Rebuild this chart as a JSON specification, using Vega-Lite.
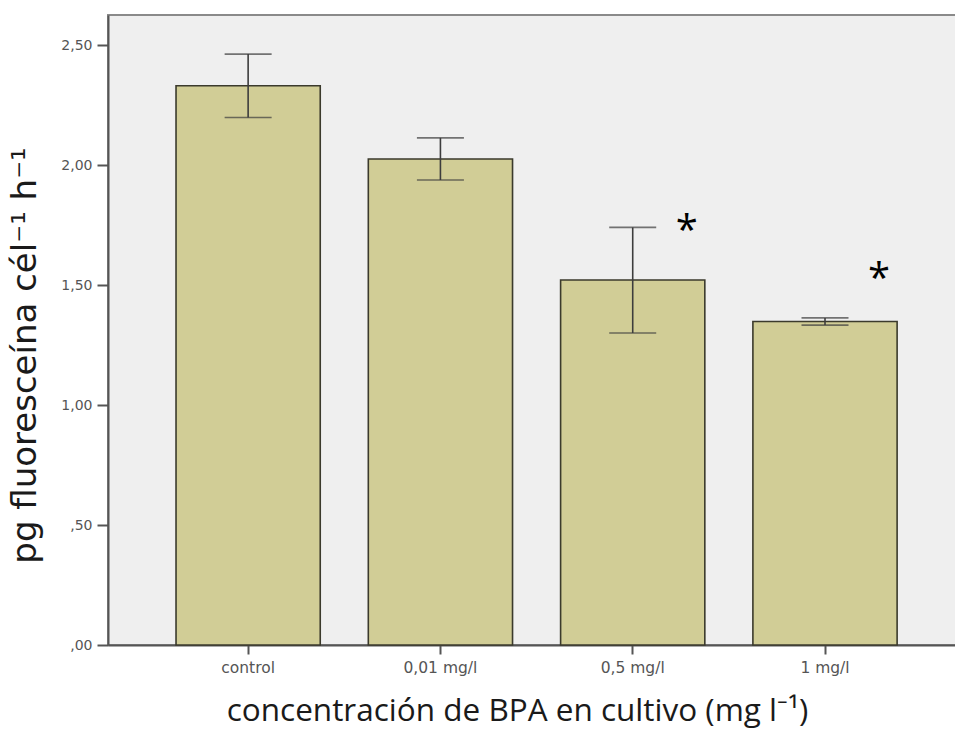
{
  "$schema": "https://vega.github.io/schema/vega-lite/v6.json",
  "autosize": "none",
  "padding": {"left": 108, "top": 15, "right": 0, "bottom": 84},
  "width": 848,
  "height": 630,
  "background": "white",
  "config": {
    "view": {"fill": "#efefef", "stroke": "#8a8a8a", "strokeWidth": 2},
    "axis": {"labelFont": "DejaVu Sans", "titleFont": "Open Sans", "labelColor": "#555555", "tickColor": "#555555", "domainColor": "#555555", "domainWidth": 2, "tickWidth": 2, "grid": false}
  },
  "data": {
    "values": [
      {"grupo": "control", "media": 2.33, "inf": 2.198, "sup": 2.462, "sig": null},
      {"grupo": "0,01 mg/l", "media": 2.025, "inf": 1.9375, "sup": 2.113, "sig": null},
      {"grupo": "0,5 mg/l", "media": 1.521, "inf": 1.30, "sup": 1.74, "sig": 1.75},
      {"grupo": "1 mg/l", "media": 1.348, "inf": 1.333, "sup": 1.363, "sig": 1.55}
    ]
  },
  "encoding": {
    "x": {
      "field": "grupo",
      "type": "nominal",
      "sort": null,
      "scale": {"paddingInner": 0.25, "paddingOuter": 0.33, "align": 0.536},
      "axis": {
        "title": "concentración de BPA en cultivo (mg l⁻¹)",
        "titleFontSize": 31.5,
        "titleFontWeight": "normal",
        "titleColor": "#1a1a1a",
        "titleX": 409,
        "titlePadding": 20,
        "labelAngle": 0,
        "labelFontSize": 15.5,
        "labelPadding": 6,
        "tickSize": 9
      }
    }
  },
  "layer": [
    {
      "mark": {"type": "bar", "fill": "#d1cd96", "stroke": "#3b3a2c", "strokeWidth": 1.6},
      "encoding": {
        "y": {
          "field": "media",
          "type": "quantitative",
          "scale": {"domain": [0, 2.625], "nice": false},
          "axis": {
            "title": "pg fluoresceína cél⁻¹ h⁻¹",
            "titleFont": "DejaVu Sans",
            "titleFontSize": 34,
            "titleFontWeight": "normal",
            "titleColor": "#1a1a1a",
            "titlePadding": 18,
            "titleY": 340,
            "values": [0, 0.5, 1, 1.5, 2, 2.5],
            "labelExpr": "datum.value < 1 ? replace(format(datum.value, '.2f'), '0.', ',') : replace(format(datum.value, '.2f'), '.', ',')",
            "labelFontSize": 14,
            "labelPadding": 5,
            "tickSize": 11
          }
        }
      }
    },
    {
      "mark": {"type": "rule", "color": "#3d3d3d", "strokeWidth": 1.6},
      "encoding": {
        "y": {"field": "inf", "type": "quantitative"},
        "y2": {"field": "sup"}
      }
    },
    {
      "mark": {"type": "tick", "color": "#3d3d3d", "thickness": 1.6, "size": 47},
      "encoding": {"y": {"field": "inf", "type": "quantitative"}}
    },
    {
      "mark": {"type": "tick", "color": "#3d3d3d", "thickness": 1.6, "size": 47},
      "encoding": {"y": {"field": "sup", "type": "quantitative"}}
    },
    {
      "transform": [{"filter": "datum.sig != null"}],
      "mark": {"type": "text", "text": "*", "font": "Open Sans", "fontSize": 40, "color": "#000000", "dx": 54, "baseline": "middle", "dy": 7},
      "encoding": {"y": {"field": "sig", "type": "quantitative"}}
    }
  ]
}
